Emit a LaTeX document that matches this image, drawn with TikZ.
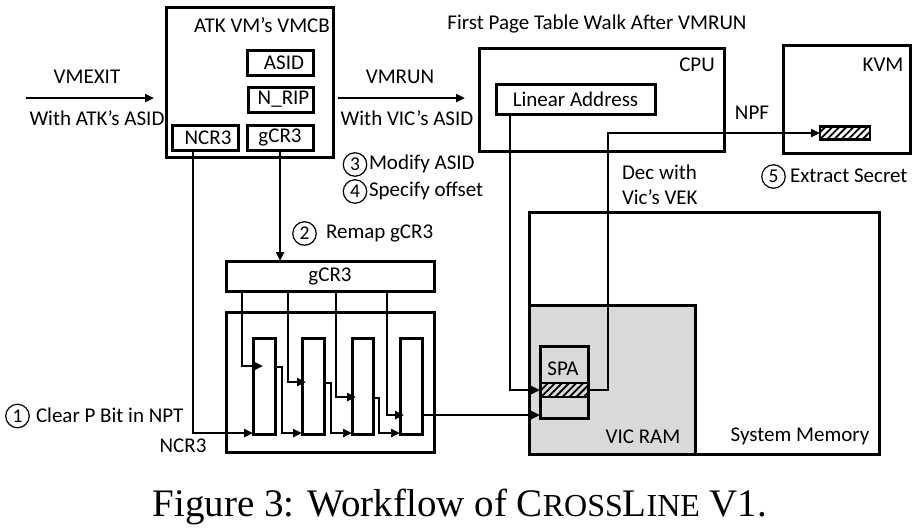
\documentclass[tikz,border=0pt]{standalone}
\usepackage{fontspec}
\setmainfont{Carlito}
\newfontfamily\capfont{Liberation Serif}
\usetikzlibrary{arrows.meta,patterns.meta}
\begin{document}
\begin{tikzpicture}[x=1pt,y=-1pt,
  every node/.style={font=\fontsize{21}{24}\selectfont,inner sep=0pt,outer sep=0pt},
  box/.style n args={2}{draw,line width=3pt,minimum width=#1 pt,minimum height=#2 pt},
  hatchbox/.style n args={2}{draw,line width=2.5pt,minimum width=#1 pt,minimum height=#2 pt,
     pattern={Lines[angle=45,distance=5pt,line width=1.8pt]}},
  conn/.style={line width=2.5pt,-{Triangle[length=9pt,width=8pt]}},
  lbl/.style={anchor=center},
  circnum/.style={circle,draw,line width=1.2pt,minimum size=23.5pt,font=\fontsize{19.5}{20}\selectfont},
]
\useasboundingbox (0,0) rectangle (917,528);

% memory
\node[box={350}{242}] (sysmem) at (704,333) {};
\node[box={166}{149},fill=black!15] (vicram) at (612,379.5) {};
\node[box={48}{72}] (spa) at (564,382) {};
\node[hatchbox={48}{14}] (spastrip) at (564,390) {};
\node[lbl] (spat) at (563,369) {SPA};
\node[lbl] (vicramt) at (643,437) {VIC RAM};
\node[lbl] (sysmemt) at (800,436) {System Memory};

% VMCB
\node[box={167}{150}] (vmcb) at (249.5,82) {};
\node[lbl] (vmcbt) at (262,25) {ATK VM’s VMCB};
\node[box={66}{25}] (asid) at (280,62.5) {\hspace*{8pt}ASID};
\node[box={65}{25}] (nrip) at (280.5,99.5) {\hspace*{6pt}N\_RIP};
\node[box={66}{25}] (ncr3b) at (205,137.5) {\hspace*{6pt}NCR3};
\node[box={66}{25}] (gcr3b) at (280,137.5) {gCR3};

% CPU & KVM
\node[box={245}{103}] (cpu) at (601.5,99.5) {};
\node[lbl] (cput) at (697,65) {CPU};
\node[box={159}{30}] (linaddr) at (575.5,99) {Linear Address};
\node[box={127}{108}] (kvm) at (846.5,99) {};
\node[lbl] (kvmt) at (883,65) {KVM};
\node[hatchbox={50}{13}] (kvmsec) at (845,133) {};
\node[lbl] (walkt) at (597,24) {First Page Table Walk After VMRUN};

% page tables
\node[box={208}{30}] (gcr3bar) at (330,276) {gCR3};
\node[box={208}{140}] (ptbox) at (330,382) {};
\node[box={22}{96}] (col1) at (264,386) {};
\node[box={22}{96}] (col2) at (313,386) {};
\node[box={21}{96}] (col3) at (362.5,386) {};
\node[box={22}{96}] (col4) at (411,386) {};

% labels
\node[lbl] (vmexitt) at (87,77) {VMEXIT};
\node[lbl] (atkasid) at (97,118) {With ATK’s ASID};
\node[lbl] (vmrunt) at (400,77) {VMRUN};
\node[lbl] (vicasid) at (407,118) {With VIC’s ASID};
\node[circnum] (c3) at (355,164.5) {3};
\node[anchor=west] (step3) at (369,164) {Modify ASID};
\node[circnum] (c4) at (355,191.5) {4};
\node[anchor=west] (step4) at (369,191) {Specify offset};
\node[circnum] (c2) at (304.5,233.5) {2};
\node[anchor=west] (step2) at (326,233) {Remap gCR3};
\node[circnum] (c1) at (17.5,416) {1};
\node[anchor=west] (step1) at (36,415) {Clear P Bit in NPT};
\node[lbl] (ncr3t) at (183,445.5) {NCR3};
\node[lbl] (npft) at (752,113) {NPF};
\node[anchor=west] (dec1) at (622,172) {Dec with};
\node[anchor=west] (dec2) at (622,197) {Vic’s VEK};
\node[circnum] (c5) at (773.5,176.5) {5};
\node[anchor=west] (step5) at (790,176) {Extract Secret};

% connectors
\coordinate (vmexitA) at (26,98);
\draw[conn] (vmexitA) -- ([xshift=-12pt]vmcb.west |- vmexitA);
\draw[conn] ([xshift=5pt]vmcb.east |- vmexitA) -- ([xshift=-14pt]cpu.west |- vmexitA);
\draw[conn] (gcr3b.south) -- (gcr3b.south |- gcr3bar.north);
\draw[conn] ([xshift=-12pt]ncr3b.south) |- (col1.west |- 0,433);
\draw[conn,shorten >=-10pt] ([xshift=16pt]gcr3bar.south west) |- (col1.west |- 0,366);
\draw[conn,shorten >=-4pt] ([xshift=62pt]gcr3bar.south west) |- (col2.west |- 0,382);
\draw[conn,shorten >=-4pt] ([xshift=110pt]gcr3bar.south west) |- (col3.west |- 0,397);
\draw[conn,shorten >=-4pt] ([xshift=161pt]gcr3bar.south west) |- (col4.west |- 0,415);
\draw[conn] (col1.east |- 0,367) -- ++(7,0) |- (col2.west |- 0,433);
\draw[conn] (col2.east |- 0,383) -- ++(7,0) |- (col3.west |- 0,433);
\draw[conn] (col3.east |- 0,398) -- ++(6,0) |- (col4.west |- 0,433);
\draw[conn] (col4.east |- 0,415) -- (spa.west |- 0,415);
\draw[conn] ([xshift=14pt]linaddr.south west) |- (spastrip.west);
\draw[conn] (spastrip.east) -- ++(20,0) |- (kvmsec.west);

% caption
\node[lbl,font={\capfont\fontsize{39}{44}\selectfont}] (caption) at (460,507)
  {Figure 3: Workflow of C{\fontsize{32}{36}\selectfont ROSS}L{\fontsize{32}{36}\selectfont INE} V1.};
\end{tikzpicture}
\end{document}
